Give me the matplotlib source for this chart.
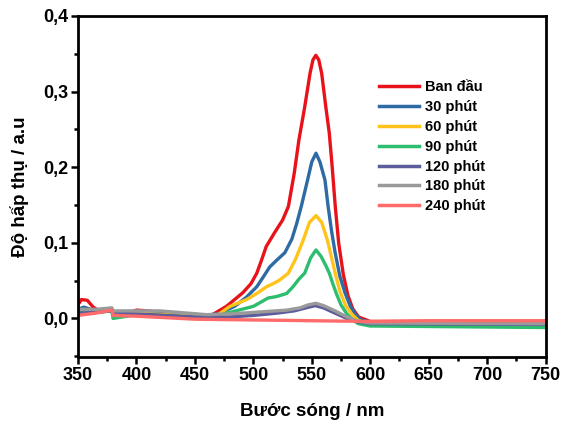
import matplotlib
matplotlib.use("Agg")
import matplotlib.pyplot as plt
from matplotlib.ticker import MultipleLocator, FuncFormatter

plt.rcParams['font.family'] = ['Liberation Sans', 'DejaVu Sans']
plt.rcParams['font.weight'] = 'bold'

labels = ["Ban đầu", "30 phút", "60 phút", "90 phút", "120 phút", "180 phút", "240 phút"]
colors = ["#e8131a", "#2e6aa3", "#ffc31a", "#2dbd6e", "#5c5c9c", "#9a9a9a", "#ff6b6b"]

wl_red = [350, 353, 358, 363, 368, 379, 380, 390, 400, 410, 420, 440, 455, 465, 477, 491, 498, 503, 507, 511, 518,
          525, 530, 535, 539, 544, 548.5, 551, 553.5, 556, 558.5, 562, 565, 567.5, 570, 573, 577, 581, 585, 590,
          600, 650, 750]
ab_red = [0.018, 0.025, 0.024, 0.015, 0.010, 0.012, 0.005, 0.006, 0.011, 0.010, 0.008, 0.005, 0.003, 0.005, 0.016,
          0.034, 0.046, 0.060, 0.077, 0.095, 0.113, 0.130, 0.148, 0.192, 0.236, 0.280, 0.324, 0.342, 0.348, 0.342,
          0.324, 0.280, 0.245, 0.200, 0.150, 0.100, 0.058, 0.030, 0.013, 0.002, -0.004, -0.004, -0.004]

wl_30 = [350, 355, 365, 379, 380, 400, 450, 470, 484, 494, 503, 509, 514, 520, 527, 533, 537, 541, 546.4, 550,
         553.6, 557, 561.3, 564, 567, 570, 574, 578.4, 583, 588, 592, 600, 750]
ab_30 = [0.012, 0.015, 0.010, 0.011, 0.004, 0.008, 0.003, 0.006, 0.016, 0.028, 0.042, 0.056, 0.068, 0.077, 0.087,
         0.105, 0.125, 0.148, 0.183, 0.207, 0.2185, 0.207, 0.183, 0.148, 0.115, 0.087, 0.056, 0.034, 0.016, 0.004,
         -0.002, -0.005, -0.007]

wl_60 = [350, 355, 365, 379, 380, 400, 450, 470, 480, 494.3, 503, 511.4, 517, 522.8, 530, 536, 542.8, 548, 553.6,
         558.5, 563.3, 567, 570, 574, 579, 584, 590, 600, 750]
ab_60 = [0.010, 0.012, 0.009, 0.010, 0.004, 0.007, 0.003, 0.005, 0.016, 0.025, 0.033, 0.042, 0.046, 0.051, 0.060,
         0.078, 0.104, 0.127, 0.136, 0.127, 0.104, 0.080, 0.060, 0.036, 0.017, 0.006, -0.003, -0.007, -0.008]

wl_90 = [350, 355, 365, 379, 380, 400, 450, 470, 480, 490, 500, 507, 512.6, 520, 528.5, 534, 539, 544, 549, 553.6,
         558, 562, 565, 568, 571, 575, 580, 585, 590, 600, 750]
ab_90 = [0.008, 0.009, 0.008, 0.010, 0.000, 0.005, 0.002, 0.004, 0.008, 0.012, 0.016, 0.022, 0.027, 0.029, 0.033,
         0.042, 0.052, 0.060, 0.080, 0.0906, 0.082, 0.070, 0.060, 0.046, 0.033, 0.018, 0.006, -0.002, -0.007,
         -0.010, -0.012]

wl_120 = [350, 365, 379, 380, 400, 450, 480, 500, 520, 535, 545, 553, 560, 570, 580, 590, 600, 750]
ab_120 = [0.007, 0.008, 0.010, 0.007, 0.006, 0.002, 0.002, 0.004, 0.007, 0.010, 0.014, 0.017, 0.014, 0.007, 0.000,
          -0.005, -0.007, -0.008]

wl_180 = [350, 365, 379, 380, 400, 420, 460, 480, 500, 528.5, 540, 547, 553.6, 560, 570, 580, 590, 600, 750]
ab_180 = [0.012, 0.012, 0.014, 0.010, 0.010, 0.010, 0.005, 0.006, 0.008, 0.011, 0.014, 0.018, 0.020, 0.017, 0.010,
          0.002, -0.004, -0.006, -0.007]

wl_240 = [350, 365, 379, 380, 400, 450, 500, 550, 600, 650, 750]
ab_240 = [0.004, 0.007, 0.011, 0.004, 0.003, -0.001, -0.002, -0.003, -0.004, -0.003, -0.003]

series = [(wl_red, ab_red), (wl_30, ab_30), (wl_60, ab_60), (wl_90, ab_90),
          (wl_120, ab_120), (wl_180, ab_180), (wl_240, ab_240)]

fig = plt.figure(figsize=(5.63, 4.21), dpi=100)
ax = fig.add_axes([0.1385, 0.152, 0.8305, 0.810])

for (x, y), lab, c in zip(series, labels, colors):
    ax.plot(x, y, color=c, lw=2.4, label=lab, solid_joinstyle='round')

ax.set_xlim(350, 750)
ax.set_ylim(-0.051, 0.4)
ax.xaxis.set_major_locator(MultipleLocator(50))
ax.xaxis.set_minor_locator(MultipleLocator(25))
ax.yaxis.set_major_locator(MultipleLocator(0.1))
ax.yaxis.set_minor_locator(MultipleLocator(0.05))
ax.yaxis.set_major_formatter(FuncFormatter(lambda v, p: f"{v:.1f}".replace(".", ",").replace("-0,0", "0,0")))
ax.tick_params(which='major', direction='out', length=5, width=1.8, labelsize=13, pad=2)
ax.tick_params(which='minor', direction='out', length=3, width=1.8)
for lbl in ax.get_xticklabels() + ax.get_yticklabels():
    lbl.set_fontweight('bold')
for s in ax.spines.values():
    s.set_linewidth(2)

ax.set_xlabel("Bước sóng / nm", fontsize=13.5, fontweight='bold', labelpad=14)
ax.set_ylabel("Độ hấp thụ / a.u", fontsize=13.5, fontweight='bold', labelpad=10)

leg = ax.legend(loc='upper left', bbox_to_anchor=(0.615, 0.85), frameon=False,
                prop={'weight': 'bold', 'size': 10.5}, handlelength=2.8, handletextpad=0.35,
                labelspacing=0.4)
for h in leg.get_lines():
    h.set_linewidth(2.5)

fig.savefig("out.png", dpi=100)
